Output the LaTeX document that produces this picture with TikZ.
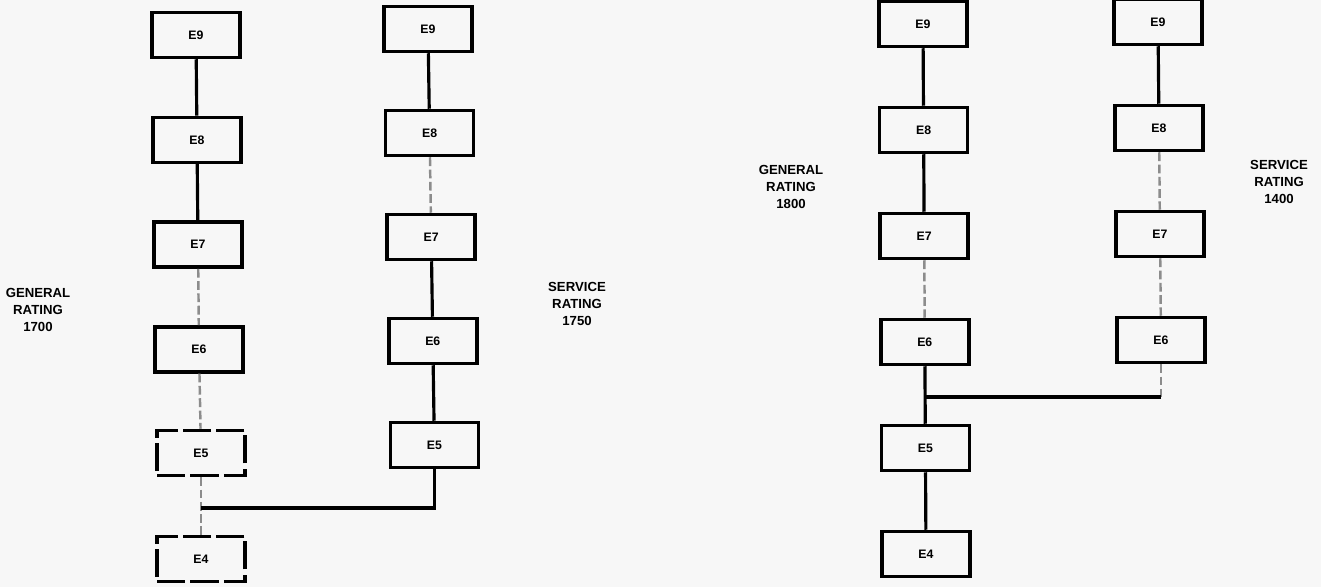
\documentclass[tikz,border=0pt]{standalone}
\usepackage{fontspec}
\setmainfont{Liberation Sans}
\begin{document}
\begin{tikzpicture}[
	x=0.02cm, y=-0.02cm,
	grade/.style={ draw, line width=2pt, minimum width=1.76cm, minimum height=0.9cm, inner sep=0pt, font=\bfseries\fontsize{7}{8}\selectfont },
	worn/.style={ grade, dash pattern=on 16pt off 3pt },
	link/.style={ line width=1.8pt },
	faint/.style={ black!45, line width=1.4pt, dash pattern=on 5pt off 2pt },
	rating/.style={ align=center, font=\bfseries\fontsize{7.5}{9.5}\selectfont }
]

\path[use as bounding box, fill=black!3] (0,0) rectangle (1321,587);

% grade ladders, one per column
\foreach \c/\x/\y/\dx/\dy/\n in {1/196/35/1/104.8/6, 2/428/29/1.6/104/5, 3/923/24/0.6/106/4, 4/1158/22/1/106/6} {
	\foreach \p in {9,...,\n} {
		\node[grade] (c\c e\p) at ({\x+(9-\p)*\dx},{\y+(9-\p)*\dy}) {E\p};
	}
}
\node[worn] (c1e5) at (201,453) {E5};
\node[worn] (c1e4) at (201,559) {E4};

\node[rating] (gr1700) at (38,310) {GENERAL\\RATING\\1700};
\node[rating] (sr1750) at (577,304) {SERVICE\\RATING\\1750};
\node[rating] (gr1800) at (791,187) {GENERAL\\RATING\\1800};
\node[rating] (sr1400) at (1279,182) {SERVICE\\RATING\\1400};

\foreach \c/\a/\b in {1/9/8, 1/8/7, 2/9/8, 2/7/6, 2/6/5, 3/9/8, 3/8/7, 3/6/5, 3/5/4, 4/9/8}
	\draw[link] (c\c e\a) -- (c\c e\b);
\foreach \c/\a/\b in {1/7/6, 1/6/5, 1/5/4, 2/8/7, 3/7/6, 4/8/7, 4/7/6}
	\draw[faint] (c\c e\a) -- (c\c e\b);

% cross-overs
\coordinate (j1) at (c1e5.south |- 0,508);
\draw[link] (c2e5) |- (j1);
\coordinate (j2) at (c3e6.south |- 0,397);
\coordinate (k2) at (c4e6.south |- j2);
\draw[faint] (c4e6) -- (k2);
\draw[link] (k2) -- (j2);

\end{tikzpicture}
\end{document}
